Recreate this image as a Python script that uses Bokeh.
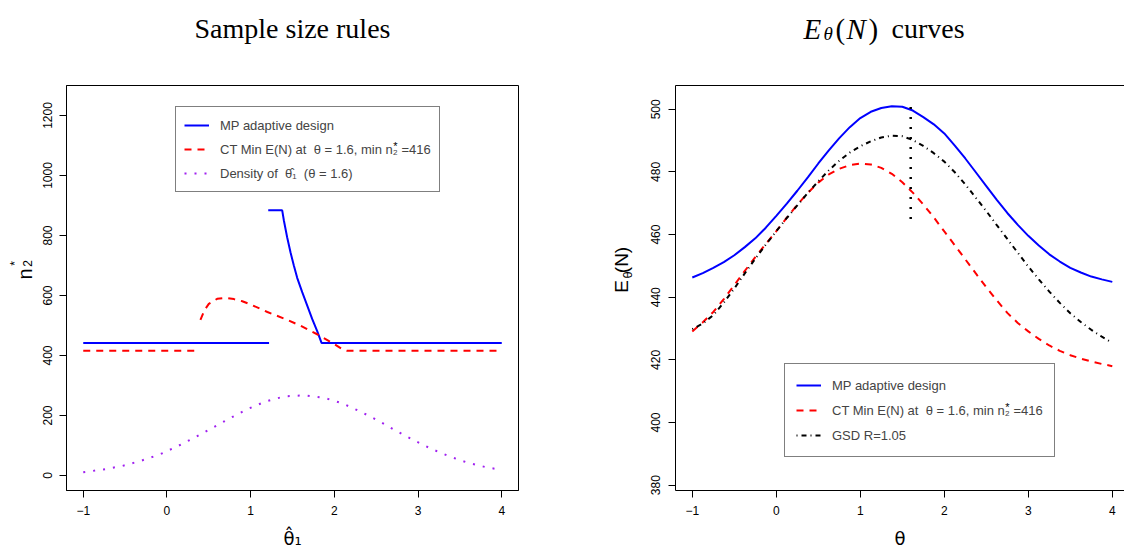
import math

from bokeh.embed import file_html
from bokeh.layouts import column, row
from bokeh.models import FixedTicker, Label, Legend, LegendItem, LinearAxis, Range1d
from bokeh.plotting import figure
from bokeh.resources import INLINE

NAN = float("nan")

# ---------------- left panel: second-stage sample size rules ----------------
x_ticks = [-1, 0, 1, 2, 3, 4]
left_y_ticks = [0, 200, 400, 600, 800, 1000, 1200]

# MP adaptive design (NaN breaks the line at the jump)
mp_theta1 = [-1.0, 1.22, NAN, 1.21, 1.377, 1.397, 1.436, 1.476, 1.516, 1.556, 1.616,
             1.675, 1.735, 1.795, 1.847, 4.0]
mp_n2 = [442, 442, NAN, 884, 884, 850, 794, 744, 700, 659, 611,
         567, 522, 481, 442, 442]

# CT design minimising E(N) at theta = 1.6
ct_theta1 = [-1.0, 0.38, NAN, 0.40, 0.45, 0.50, 0.60, 0.70, 0.80, 0.90, 1.00,
             1.20, 1.40, 1.60, 1.80, 2.00, 2.10, 2.15, 4.0]
ct_n2 = [416, 416, NAN, 519, 552, 572, 589, 592, 588, 581, 570,
         545, 523, 499, 470, 438, 420, 416, 416]

# density of theta1_hat when theta = 1.6 (scaled)
dens_theta1 = [-1.0, -0.76, -0.53, -0.31, -0.08, 0.13, 0.34, 0.55, 0.76, 0.96, 1.18,
               1.41, 1.64, 1.88, 2.10, 2.32, 2.53, 2.73, 2.94, 3.15, 3.37, 3.59, 3.82, 4.0]
dens_val = [11, 20, 32, 49, 71, 98, 128, 160, 192, 221, 247,
            264, 267, 259, 240, 212, 182, 150, 119, 90, 64, 43, 27, 19]

# ---------------- right panel: expected total sample size ----------------
right_y_ticks = [380, 400, 420, 440, 460, 480, 500]
en_theta = [-1.0, -0.875, -0.75, -0.625, -0.5, -0.375, -0.25, -0.125, 0.0, 0.125, 0.25,
            0.375, 0.5, 0.625, 0.75, 0.875, 1.0, 1.125, 1.25, 1.375, 1.5,
            1.625, 1.75, 1.875, 2.0, 2.125, 2.25, 2.375, 2.5, 2.625, 2.75,
            2.875, 3.0, 3.125, 3.25, 3.375, 3.5, 3.625, 3.75, 3.875, 4.0]
en_mp = [446.3, 447.7, 449.4, 451.2, 453.4, 456.0, 458.8, 462.2, 466.0, 469.9, 474.0,
         478.3, 482.7, 486.9, 490.8, 494.3, 497.2, 499.2, 500.4, 501.0, 500.8,
         499.6, 497.5, 495.2, 492.3, 488.4, 484.3, 479.9, 475.5, 471.1, 466.9,
         463.1, 459.6, 456.5, 453.7, 451.4, 449.4, 447.9, 446.6, 445.7, 444.9]
en_ct = [429.1, 432.0, 435.3, 439.4, 443.9, 448.4, 452.8, 457.0, 461.1, 465.4, 469.5,
         473.3, 476.6, 479.2, 481.0, 482.2, 482.7, 482.4, 481.3, 479.4, 476.7,
         473.4, 469.6, 465.5, 461.0, 456.6, 452.1, 447.6, 443.2, 439.0, 435.0,
         431.8, 429.1, 426.7, 424.6, 422.9, 421.5, 420.4, 419.5, 418.7, 418.0]
en_gsd = [429.8, 431.6, 434.3, 438.3, 442.8, 447.6, 452.3, 456.8, 461.1, 465.3, 469.3,
          473.3, 477.0, 480.5, 483.6, 486.2, 488.2, 489.8, 491.0, 491.6, 491.4,
          490.2, 488.3, 486.0, 483.3, 479.9, 476.0, 471.8, 467.5, 463.0, 458.6,
          454.2, 449.8, 445.7, 441.8, 438.2, 434.9, 432.1, 429.6, 427.4, 425.4]
# marker of theta = 1.6
mark_theta = [1.6, 1.6]
mark_en = [465, 503]

SANS = "Liberation Sans"
SERIF = "Liberation Serif"
BLUE, RED, PURPLE = "#0000FF", "#FF0000", "#A020F0"

# page geometry (pixels)
PAGE_W, PAGE_H = 1124, 552
HEAD_H = 60                      # title strip
SL_W = 36                        # strip holding the left y title
P1_W = 562 - SL_W
SM_W = 78                        # strip holding the right y title
P2_X = 562 + SM_W
P2_W = PAGE_W - P2_X
BODY_H = PAGE_H - HEAD_H

L_LEFT, L_RIGHT, TOP, BOTTOM = 66, 518, 85, 490
R_LEFT, R_RIGHT = 675, 1124

L_XR = (-1.2, 4.2)
L_YR = (-50, 1300)
R_XR = (-1.2, -1.2 + (R_RIGHT - R_LEFT) / 84.0)
R_YR = (378.3, 507.6)


def to_data(px, py, left, right, xr, yr):
    x = xr[0] + (px - left) * (xr[1] - xr[0]) / (right - left)
    y = yr[0] + (BOTTOM - py) * (yr[1] - yr[0]) / (BOTTOM - TOP)
    return x, y


def lpos(px, py):
    return to_data(px, py, L_LEFT, L_RIGHT, L_XR, L_YR)


def rpos(px, py):
    return to_data(px, py, R_LEFT, R_RIGHT, R_XR, R_YR)


def add_text(p, xy, text, size, font=SANS, style="normal", angle=0.0,
             align="center", baseline="middle", level="annotation"):
    p.add_layout(Label(x=xy[0], y=xy[1], text=text, text_font=font,
                       text_font_size=f"{size}px", text_font_style=style,
                       angle=angle, text_align=align, text_baseline=baseline,
                       text_color="black", level=level))


def strip(x0, y0, w, h):
    """Blank figure whose data coordinates are page pixels (y grows downward)."""
    s = figure(width=w, height=h, x_range=Range1d(x0, x0 + w), y_range=Range1d(y0 + h, y0),
               x_axis_type=None, y_axis_type=None, output_backend="svg",
               toolbar_location=None, min_border=0)
    s.outline_line_color = None
    s.grid.visible = False
    s.background_fill_color = "white"
    s.border_fill_color = "white"
    return s


def style_axes(p, yticks):
    p.xgrid.visible = False
    p.ygrid.visible = False
    p.xaxis.ticker = FixedTicker(ticks=x_ticks)
    p.yaxis.ticker = FixedTicker(ticks=yticks)
    p.xaxis.major_label_overrides = {-1: "\u22121"}
    for ax in p.xaxis + p.yaxis:
        ax.major_tick_out = 7
        ax.major_tick_in = 0
        ax.minor_tick_out = 0
        ax.minor_tick_in = 0
        ax.major_tick_line_color = "black"
        ax.axis_line_color = "black"
        ax.major_label_text_font = SANS
        ax.major_label_text_font_size = "12px"
        ax.major_label_text_color = "black"
        ax.major_label_standoff = 8
    p.yaxis.major_label_orientation = "vertical"
    p.xaxis.axis_label_text_font = "DejaVu Sans"
    p.xaxis.axis_label_text_font_size = "18px"
    p.xaxis.axis_label_text_font_style = "normal"
    p.xaxis.axis_label_text_color = "black"
    p.xaxis.axis_label_standoff = 10
    p.background_fill_color = "white"
    p.border_fill_color = "white"


def legend_box(items, loc, padding, spacing):
    # the box sits over an empty part of the frame, so a clear fill looks the same
    # as a white one and lets the stacked superscript drawn below it show through
    lg = Legend(items=items, location=loc)
    lg.border_line_color = "black"
    lg.border_line_width = 1
    lg.background_fill_alpha = 0.0
    lg.label_text_font = SANS
    lg.label_text_font_size = "13px"
    lg.glyph_width = 25
    lg.glyph_height = 20
    lg.label_height = 20
    lg.spacing = spacing
    lg.padding = padding
    lg.margin = 0
    lg.label_standoff = 11
    return lg


CT_LABEL = "CT Min E(N) at  \u03b8 = 1.6, min n\u2082 =416"

# ---------------- left figure ----------------
p1 = figure(width=P1_W, height=BODY_H, x_range=Range1d(*L_XR), y_range=Range1d(*L_YR),
            output_backend="svg", toolbar_location=None,
            min_border_left=L_LEFT - SL_W, min_border_right=562 - L_RIGHT,
            min_border_top=TOP - HEAD_H, min_border_bottom=PAGE_H - BOTTOM)
style_axes(p1, left_y_ticks)
p1.xaxis.axis_label = "\u03b8\u0302\u2081"
p1.outline_line_color = "black"
p1.outline_line_width = 1

r_mp = p1.line(mp_theta1, mp_n2, line_color=BLUE, line_width=2)
r_ct = p1.line(ct_theta1, ct_n2, line_color=RED, line_width=2, line_dash="7 6")
r_dn = p1.line(dens_theta1, dens_val, line_color=PURPLE, line_width=2, line_dash="2 8")

p1.add_layout(legend_box([
    LegendItem(label="MP adaptive design", renderers=[r_mp]),
    LegendItem(label=CT_LABEL, renderers=[r_ct]),
    LegendItem(label="Density of  \u03b8\u0302\u2081  (\u03b8 = 1.6)", renderers=[r_dn]),
], (175 - L_LEFT, BOTTOM - 192), 8, 4))
add_text(p1, lpos(395, 145), "*", 11)

# ---------------- right figure ----------------
p2 = figure(width=P2_W, height=BODY_H, x_range=Range1d(*R_XR), y_range=Range1d(*R_YR),
            output_backend="svg", toolbar_location=None,
            min_border_left=R_LEFT - P2_X, min_border_right=0,
            min_border_top=TOP - HEAD_H, min_border_bottom=PAGE_H - BOTTOM)
style_axes(p2, right_y_ticks)
p2.xaxis.axis_label = "\u03b8"
p2.outline_line_color = None
top_edge = LinearAxis(ticker=FixedTicker(ticks=[]), axis_line_color="black",
                      major_tick_out=0, major_tick_in=0, minor_tick_out=0,
                      minor_tick_in=0, major_label_text_font_size="0px")
p2.add_layout(top_edge, "above")

q_mp = p2.line(en_theta, en_mp, line_color=BLUE, line_width=2)
q_ct = p2.line(en_theta, en_ct, line_color=RED, line_width=2, line_dash="7 6")
q_gsd = p2.line(en_theta, en_gsd, line_color="black", line_width=2, line_dash="1 4 5 4")
p2.line(mark_theta, mark_en, line_color="black", line_width=2.5, line_dash="2 8")

p2.add_layout(legend_box([
    LegendItem(label="MP adaptive design", renderers=[q_mp]),
    LegendItem(label=CT_LABEL, renderers=[q_ct]),
    LegendItem(label="GSD R=1.05", renderers=[q_gsd]),
], (784 - R_LEFT, BOTTOM - 457), 11, 5))
add_text(p2, rpos(1007, 406), "*", 11)

# ---------------- titles ----------------
head = strip(0, 0, PAGE_W, HEAD_H)
add_text(head, (292, 28), "Sample size rules", 28, font=SERIF, baseline="alphabetic")
add_text(head, (803, 28), "E", 29, font=SERIF, style="italic", align="left", baseline="alphabetic")
add_text(head, (823, 33), "\u03b8", 19, font=SERIF, style="italic", align="left", baseline="alphabetic")
add_text(head, (835, 28), "(", 29, font=SERIF, align="left", baseline="alphabetic")
add_text(head, (846, 28), "N", 29, font=SERIF, style="italic", align="left", baseline="alphabetic")
add_text(head, (868, 28), ")", 29, font=SERIF, align="left", baseline="alphabetic")
add_text(head, (891, 28), "curves", 28, font=SERIF, align="left", baseline="alphabetic")

# ---------------- y titles ----------------
side_l = strip(0, HEAD_H, SL_W, BODY_H)
add_text(side_l, (24, 289), "n", 20, angle=math.pi / 2)
add_text(side_l, (27, 276), "2", 12, angle=math.pi / 2)
add_text(side_l, (14, 276), "*", 12, angle=math.pi / 2)

side_m = strip(562, HEAD_H, SM_W, BODY_H)
add_text(side_m, (621, 304), "E", 19, angle=math.pi / 2)
add_text(side_m, (627, 290), "\u03b8", 13, angle=math.pi / 2)
add_text(side_m, (621, 272), "(N)", 19, angle=math.pi / 2)

layout = column(head, row(side_l, p1, side_m, p2))
open("out.html", "w").write(file_html(layout, INLINE, "Sample size rules"))
